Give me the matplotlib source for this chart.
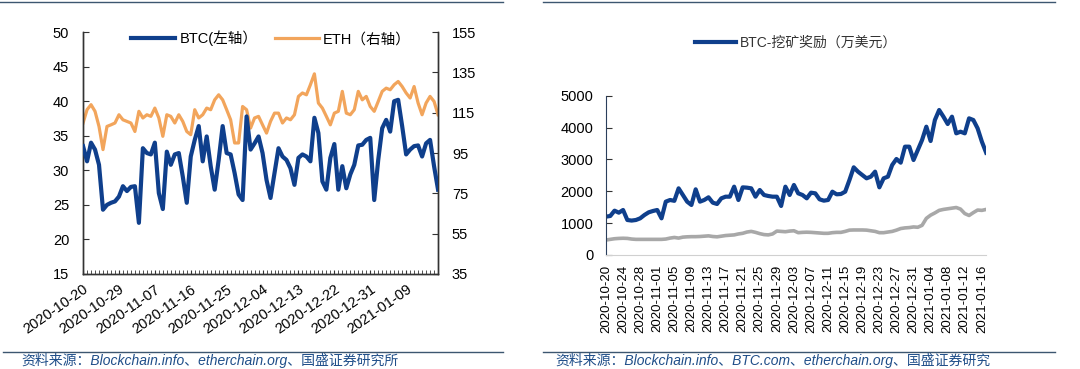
import pandas as pd
import matplotlib
matplotlib.use("Agg")
import matplotlib.pyplot as plt
from matplotlib.lines import Line2D

plt.rcParams["font.family"] = ["Liberation Sans", "Noto Sans CJK SC", "DejaVu Sans"]

# Dates (daily)
dates = pd.date_range("2020-10-20", "2021-01-17", freq="D").strftime("%Y-%m-%d").tolist()

# Left panel: BTC (left axis), ETH (right axis)
btc_left = [
    33.5, 31.3, 34.0, 33.0, 30.8, 24.3, 25.0, 25.3, 25.5, 26.2,
    27.7, 27.0, 27.6, 27.7, 22.4, 33.2, 32.5, 32.3, 34.0, 26.7,
    24.4, 32.7, 30.8, 32.3, 32.5, 29.1, 25.3, 32.0, 34.4, 36.4,
    31.3, 34.9, 30.6, 27.2, 31.5, 36.4, 32.5, 32.3, 29.6, 26.5,
    25.7, 37.8, 33.0, 33.9, 34.9, 32.5, 28.6, 26.0, 29.6, 33.2,
    32.0, 31.5, 30.3, 27.9, 31.8, 32.3, 32.0, 31.3, 37.6, 35.4,
    28.4, 27.2, 31.8, 33.8, 27.2, 30.6, 27.4, 29.4, 30.8, 33.6,
    33.7, 34.4, 34.7, 25.7, 31.5, 36.1, 37.3, 35.6, 40.0, 40.2,
    36.4, 32.3, 33.0, 33.5, 33.6, 32.0, 33.9, 34.4, 30.6, 27.2,
]
eth_right = [
    109.9, 116.5, 119.0, 115.7, 108.2, 96.7, 108.2, 109.0, 109.9, 114.0,
    111.5, 110.7, 109.9, 105.7, 115.7, 112.4, 114.0, 113.2, 117.3, 112.4,
    103.3, 114.0, 113.2, 109.9, 114.0, 110.7, 105.7, 104.1, 116.5, 112.4,
    114.0, 117.3, 116.5, 121.4, 123.9, 121.4, 116.5, 111.5, 100.0, 100.0,
    118.1, 116.5, 107.4, 112.4, 113.2, 109.0, 104.9, 110.7, 114.8, 114.8,
    109.9, 112.4, 111.5, 114.0, 123.1, 124.8, 123.9, 128.9, 134.3, 119.8,
    117.3, 113.2, 109.0, 114.8, 115.7, 125.6, 114.8, 114.0, 116.5, 125.6,
    121.4, 123.1, 118.1, 115.7, 120.6, 125.6, 127.2, 126.4, 128.9, 130.5,
    128.0, 124.8, 122.3, 128.0, 119.8, 114.0, 119.8, 123.1, 120.6, 114.0,
]

# Right panel: mining rewards (10k USD)
btc_reward = [
    1203, 1224, 1391, 1328, 1412, 1098, 1080, 1098, 1150, 1255,
    1339, 1381, 1412, 1150, 1674, 1726, 1700, 2092, 1883, 1674,
    1569, 2061, 1674, 1726, 1810, 1642, 1600, 1778, 1830, 1830,
    2144, 1726, 2123, 2113, 2092, 1830, 2040, 1883, 1851, 1830,
    1830, 1538, 2144, 1883, 2197, 1935, 1883, 1778, 1956, 1935,
    1747, 1705, 1726, 1987, 1904, 1914, 1987, 2354, 2751, 2615,
    2510, 2406, 2458, 2615, 2123, 2406, 2458, 2824, 3013, 2897,
    3400, 3400, 2981, 3295, 3609, 4027, 3577, 4236, 4550, 4341,
    4111, 4341, 3818, 3870, 3818, 4289, 4236, 3975, 3556, 3211,
]
eth_reward = [
    470, 490, 510, 520, 525, 520, 500, 490, 490, 490,
    490, 490, 490, 490, 500, 530, 550, 530, 560, 570,
    575, 575, 580, 590, 600, 580, 570, 590, 610, 620,
    630, 660, 680, 720, 740, 710, 670, 640, 630, 660,
    750, 740, 730, 750, 760, 700, 710, 715, 710, 700,
    690, 680, 680, 700, 710, 710, 740, 780, 785, 785,
    785, 780, 760, 740, 700, 700, 720, 740, 780, 830,
    850, 860, 880, 870, 930, 1150, 1250, 1320, 1400, 1430,
    1450, 1470, 1490, 1440, 1300, 1240, 1330, 1410, 1400, 1430,
]

BLUE = "#0f3f8c"
ORANGE = "#f2a55c"
GRAY = "#a8a8a8"
RULE = "#3c5670"

x = list(range(len(dates)))

fig = plt.figure(figsize=(10.8, 3.69), dpi=100)

# ---------- left panel ----------
ax1 = fig.add_axes([0.0769, 0.2575, 0.3287, 0.6555])
ax2 = ax1.twinx()
ax1.plot(x, btc_left, color=BLUE, lw=3.0, solid_joinstyle="round", zorder=3)
ax2.plot(x, eth_right, color=ORANGE, lw=2.3, solid_joinstyle="round")
ax1.set_zorder(ax2.get_zorder() + 1)
ax1.patch.set_visible(False)

ax1.set_xlim(0, len(x) - 1)
ax1.set_ylim(15, 50)
ax2.set_ylim(35, 155)
ax1.set_yticks(range(15, 51, 5))
ax2.set_yticks(range(35, 156, 20))
ax1.set_xticks(x[::9])
ax1.set_xticklabels(dates[::9], rotation=35, ha="right", rotation_mode="anchor", fontsize=10.5)
ax1.set_xticks(x, minor=True)
ax1.tick_params(axis="x", which="both", direction="in", length=3, color="#333333", pad=6)
ax1.tick_params(axis="y", direction="in", length=4, labelsize=10.5, pad=10, color="#333333")
ax2.tick_params(axis="y", direction="in", length=4, labelsize=10.5, pad=10, color="#333333")
for a in (ax1, ax2):
    a.spines["top"].set_visible(False)
    for s in ("left", "right", "bottom"):
        a.spines[s].set_color("#333333")
        a.spines[s].set_linewidth(1.0)

handles = [Line2D([], [], color=BLUE, lw=3.0), Line2D([], [], color=ORANGE, lw=2.3)]
ax1.legend(handles, ["BTC(左轴）", "ETH（右轴）"], loc="upper center",
           bbox_to_anchor=(0.53, 1.06), ncol=2, frameon=False, fontsize=10.5,
           handlelength=3.0, handletextpad=0.3, columnspacing=1.2)

# ---------- right panel ----------
ax3 = fig.add_axes([0.5611, 0.309, 0.352, 0.4317])
ax3.plot(x, eth_reward, color=GRAY, lw=2.6, solid_joinstyle="round")
ax3.plot(x, btc_reward, color=BLUE, lw=3.0, solid_joinstyle="round")
ax3.set_xlim(0, len(x) - 1)
ax3.set_ylim(0, 5000)
ax3.set_yticks(range(0, 5001, 1000))
ax3.set_xticks(x[::4])
ax3.set_xticklabels(dates[::4], rotation=90, fontsize=9.5)
ax3.tick_params(axis="x", length=0, pad=7)
ax3.tick_params(axis="y", direction="in", length=4, labelsize=10.5, pad=9, color="#333333")
ax3.spines["top"].set_visible(False)
ax3.spines["right"].set_visible(False)
ax3.spines["left"].set_color("#2b3f5c")
ax3.spines["bottom"].set_color("#d0d0d0")
ax3.legend([Line2D([], [], color=BLUE, lw=3.0)], ["BTC-挖矿奖励（万美元）"],
           loc="center", bbox_to_anchor=(0.5, 1.33), frameon=False, fontsize=10,
           handlelength=3.0, handletextpad=0.3, labelcolor="#333333")

# ---------- rules and sources ----------
fig.add_artist(Line2D([0.0, 0.466], [0.994, 0.994], color=RULE, lw=1.0))
fig.add_artist(Line2D([0.503, 0.977], [0.994, 0.994], color=RULE, lw=1.0))
fig.add_artist(Line2D([0.003, 0.466], [0.046, 0.046], color=RULE, lw=1.0))
fig.add_artist(Line2D([0.503, 0.977], [0.046, 0.046], color=RULE, lw=1.0))
fig.text(0.02, 0.002, "资料来源：Blockchain.info、etherchain.org、国盛证券研究所",
         fontsize=10, color="#1f4e89", style="italic", va="bottom")
fig.text(0.514, 0.002, "资料来源：Blockchain.info、BTC.com、etherchain.org、国盛证券研究",
         fontsize=10, color="#1f4e89", style="italic", va="bottom")

fig.savefig("out.png", dpi=100)
